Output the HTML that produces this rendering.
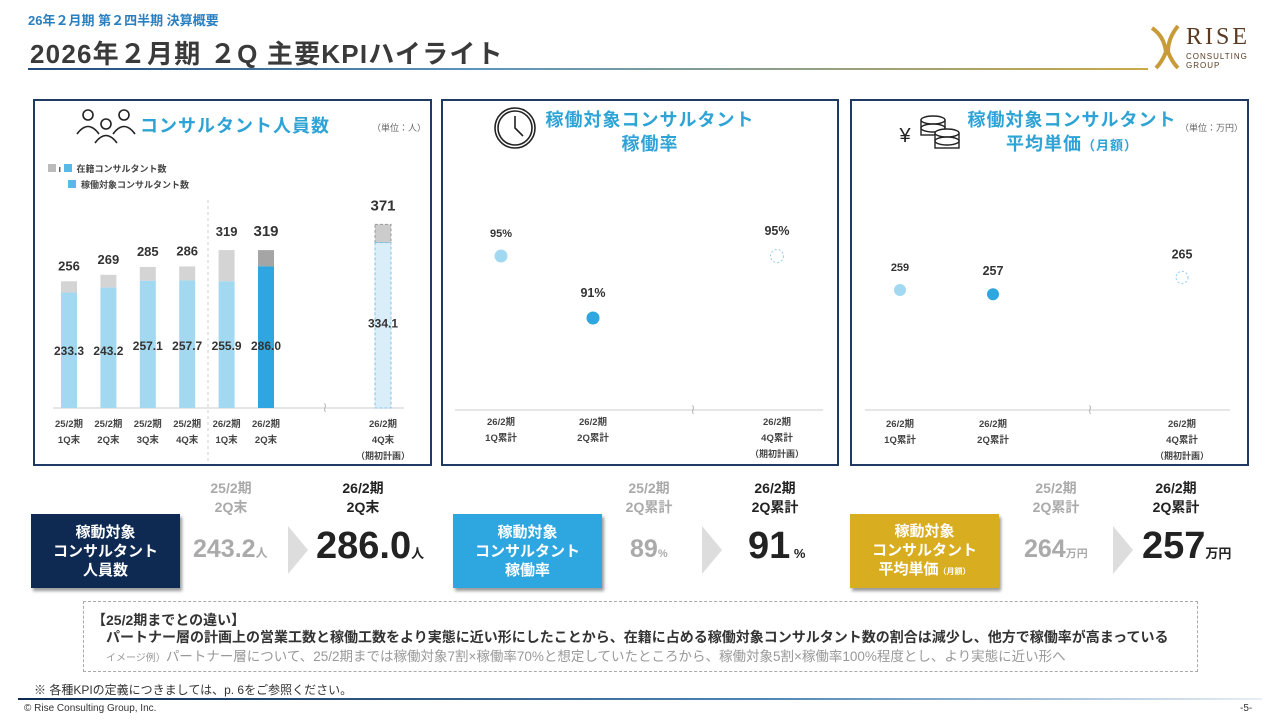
<!DOCTYPE html>
<html lang="ja"><head><meta charset="utf-8">
<style>
*{margin:0;padding:0;box-sizing:border-box}
body{width:1280px;height:720px;position:relative;background:#fff;font-family:"Liberation Sans","Noto Sans CJK JP",sans-serif;color:#333;overflow:hidden}
.a{position:absolute}
.panel{position:absolute;border:2px solid #1f3b63}
.ttl{color:#2ea3d6;font-weight:bold;font-size:18px;text-align:center;line-height:24px;letter-spacing:1px}
.kbox{position:absolute;width:149px;height:74px;color:#fff;font-weight:bold;font-size:15px;line-height:19px;text-align:center;display:flex;align-items:center;justify-content:center;box-shadow:2px 3px 3px #999}
.hd{position:absolute;text-align:center;font-size:14px;line-height:19px;font-weight:bold;width:90px}
.old{color:#aaa}.new{color:#222}
.val{position:absolute;font-weight:bold;white-space:nowrap}
.arr{position:absolute;width:0;height:0;border-top:24px solid transparent;border-bottom:24px solid transparent;border-left:20px solid #ddd}
</style></head><body>
<div class="a" style="left:28px;top:10px;font-size:13px;color:#2a7fc0;font-weight:bold">26年２月期 第２四半期 決算概要</div>
<div class="a" style="left:30px;top:34px;font-size:26px;letter-spacing:1.2px;color:#3a3a3a;font-weight:bold">2026年２月期 ２Q 主要KPIハイライト</div>
<div class="a" style="left:28px;top:68px;width:1120px;height:2px;background:linear-gradient(90deg,#1f4a7a,#5d95bd 40%,#c9a94a)"></div>
<div class="a" style="left:1148px;top:22px;width:112px;height:50px">
<svg width="40" height="50" style="position:absolute;left:0;top:0"><path d="M4 6 Q16 14 18 30 Q14 40 8 46 M30 4 Q20 16 20 30 Q24 40 30 46" stroke="#c79b3a" stroke-width="4" fill="none"/></svg>
<div class="a" style="left:38px;top:2px;font-family:'Liberation Serif',serif;font-size:24px;letter-spacing:3px;color:#5a3a20">RISE</div>
<div class="a" style="left:38px;top:30px;font-size:8px;letter-spacing:1px;color:#5a3a20;line-height:9px">CONSULTING<br>GROUP</div></div>

<div class="panel" style="left:33px;top:99px;width:399px;height:367px"></div>
<div class="panel" style="left:441px;top:99px;width:398px;height:367px"></div>
<div class="panel" style="left:850px;top:99px;width:399px;height:367px"></div>

<div class="a ttl" style="left:140px;top:114px">コンサルタント人員数</div>
<div class="a" style="left:372px;top:121px;font-size:9px;color:#666">（単位：人）</div>
<div class="a ttl" style="left:540px;top:108px;width:220px">稼働対象コンサルタント<br>稼働率</div>
<div class="a ttl" style="left:962px;top:108px;width:220px">稼働対象コンサルタント<br>平均単価<span style="font-size:13px">（月額）</span></div>
<div class="a" style="left:1180px;top:121px;font-size:9px;color:#666">（単位：万円）</div>

<div class="a" style="left:48px;top:162px;font-size:9px;font-weight:bold;color:#444"><span style="display:inline-block;width:8px;height:8px;background:#bbb"></span> ı <span style="display:inline-block;width:8px;height:8px;background:#5ab8e6"></span>&nbsp;&nbsp;在籍コンサルタント数</div>
<div class="a" style="left:68px;top:178px;font-size:9px;font-weight:bold;color:#444"><span style="display:inline-block;width:8px;height:8px;background:#5ab8e6"></span>&nbsp;&nbsp;稼働対象コンサルタント数</div>

<svg id="ch" class="a" style="left:0;top:0" width="1280" height="720"></svg>

<div class="kbox" style="left:31px;top:514px;background:#0e2a52"><div>稼動対象<br>コンサルタント<br>人員数</div></div>
<div class="kbox" style="left:453px;top:514px;background:#2ea7e0"><div>稼動対象<br>コンサルタント<br>稼働率</div></div>
<div class="kbox" style="left:850px;top:514px;background:#d8ad1f"><div>稼動対象<br>コンサルタント<br>平均単価<span style="font-size:8px">（月額）</span></div></div>

<div class="hd old" style="left:186px;top:479px">25/2期<br>2Q末</div>
<div class="hd new" style="left:318px;top:479px">26/2期<br>2Q末</div>
<div class="hd old" style="left:604px;top:479px">25/2期<br>2Q累計</div>
<div class="hd new" style="left:730px;top:479px">26/2期<br>2Q累計</div>
<div class="hd old" style="left:1011px;top:479px">25/2期<br>2Q累計</div>
<div class="hd new" style="left:1131px;top:479px">26/2期<br>2Q累計</div>

<div class="val old" style="left:193px;top:535px;font-size:25px">243.2<span style="font-size:12px">人</span></div>
<div class="arr" style="left:288px;top:526px"></div>
<div class="val new" style="left:316px;top:525px;font-size:38px">286.0<span style="font-size:13px">人</span></div>
<div class="val old" style="left:630px;top:535px;font-size:25px">89<span style="font-size:11px">%</span></div>
<div class="arr" style="left:702px;top:526px"></div>
<div class="val new" style="left:748px;top:525px;font-size:38px">91<span style="font-size:13px"> %</span></div>
<div class="val old" style="left:1024px;top:535px;font-size:25px">264<span style="font-size:11px">万円</span></div>
<div class="arr" style="left:1113px;top:526px"></div>
<div class="val new" style="left:1142px;top:525px;font-size:38px">257<span style="font-size:13px">万円</span></div>

<div class="a" style="left:83px;top:601px;width:1115px;height:71px;border:1px dashed #aaa"></div>
<div class="a" style="left:92px;top:610px;font-size:14px;font-weight:bold;color:#333">【25/2期までとの違い】</div>
<div class="a" style="left:106px;top:627px;font-size:14px;font-weight:bold;color:#333;white-space:nowrap">パートナー層の計画上の営業工数と稼働工数をより実態に近い形にしたことから、在籍に占める稼働対象コンサルタント数の割合は減少し、他方で稼働率が高まっている</div>
<div class="a" style="left:106px;top:645px;font-size:13.5px;color:#999;white-space:nowrap"><span style="font-size:10px">イメージ例）</span>パートナー層について、25/2期までは稼働対象7割×稼働率70%と想定していたところから、稼働対象5割×稼働率100%程度とし、より実態に近い形へ</div>
<div class="a" style="left:34px;top:681px;font-size:12px;color:#333">※ 各種KPIの定義につきましては、p. 6をご参照ください。</div>
<div class="a" style="left:18px;top:698px;width:1244px;height:2px;background:linear-gradient(90deg,#0e2a52,#4d86b5 60%,#e8eef5)"></div>
<div class="a" style="left:24px;top:703px;font-size:10px;color:#333">© Rise Consulting Group, Inc.</div>
<div class="a" style="left:1240px;top:703px;font-size:10px;color:#333">-5-</div>

<script>
// headcount data
const hcCats=["25/2期|1Q末","25/2期|2Q末","25/2期|3Q末","25/2期|4Q末","26/2期|1Q末","26/2期|2Q末","26/2期|4Q末|（期初計画）"];
const hcTotal=[256,269,285,286,319,319,371];
const hcActive=[233.3,243.2,257.1,257.7,255.9,286.0,334.1];
// utilization data
const utCats=["26/2期|1Q累計","26/2期|2Q累計","26/2期|4Q累計|（期初計画）"];
const utVals=[95,91,95];
// unit price data
const upCats=["26/2期|1Q累計","26/2期|2Q累計","26/2期|4Q累計|（期初計画）"];
const upVals=[259,257,265];

const svg=document.getElementById('ch');
const NS="http://www.w3.org/2000/svg";
function mk(t,a,p){const e=document.createElementNS(NS,t);for(const k in a)e.setAttribute(k,a[k]);(p||svg).appendChild(e);return e;}
function txt(x,y,s,sz,fill,w,name){const e=mk('text',{x:x,y:y,'font-size':sz,fill:fill,'text-anchor':'middle','font-weight':w||'normal','font-family':'"Liberation Sans","Noto Sans CJK JP",sans-serif'});e.textContent=s;


return e;}
function catLabel(x,y,c,name){c.split('|').forEach((l,i)=>{txt(x,y+i*16,l,i==2?9:9.5,'#444','bold',name);});}

// bar chart
const base=408, ppu=0.495;
const yB=v=>base-v*ppu;
const hcX=i=>i<6?69+i*39.4:383;
let ax=mk('line',{x1:53,y1:base,x2:404,y2:base,stroke:'#ccc'});


let dv=mk('line',{x1:208,y1:200,x2:208,y2:462,stroke:'#ccc','stroke-dasharray':'3,3'});


txt(325,412,'≀',14,'#bbb','normal','axis-break');
hcCats.forEach((c,i)=>{
 const x=hcX(i),w=16,plan=i==6,cur=i==5;
 const g=mk('rect',{x:x-w/2,y:yB(hcTotal[i]),width:w,height:(hcTotal[i]-hcActive[i])*ppu,fill:cur?'#a5a5a5':(plan?'#ccc':'#d4d4d4'),stroke:plan?'#999':'none','stroke-dasharray':'3,2'});
 
 
 const b=mk('rect',{x:x-w/2,y:yB(hcActive[i]),width:w,height:hcActive[i]*ppu,fill:cur?'#2ea7e0':(plan?'#d9eef9':'#a3d9f0'),stroke:plan?'#7cc4e8':'none','stroke-dasharray':'3,2'});
 
 
 txt(x,yB(hcTotal[i])-(i>=4?14:11),String(hcTotal[i]),i>=5?15:13,'#333','bold','bar-total-label');
 txt(x,plan?yB(hcActive[i]/2)+2:(i<2?355:350),hcActive[i].toFixed(1),12,'#333','bold','bar-active-label');
 catLabel(x,427,c,'headcount-category');
});

// utilization
const utX=i=>[501,593,777][i];
const yU=v=>256+(95-v)*15.5;
let a2=mk('line',{x1:455,y1:410,x2:823,y2:410,stroke:'#ccc'});


txt(693,414,'≀',14,'#bbb','normal','axis-break');
utVals.forEach((v,i)=>{
 const x=utX(i),y=yU(v);
 const c=mk('circle',{cx:x,cy:y,r:6.5,fill:i==2?'none':(i==1?'#2ea7e0':'#a3d9f0'),stroke:i==2?'#8fcdee':'none','stroke-dasharray':'2,2'});
 
 
 txt(x,y-(i==0?19:21),v+'%',i==0?11:12.5,'#333','bold','utilization-label');
 catLabel(x,425,utCats[i],'utilization-category');
});

// unit price
const upX=i=>[900,993,1182][i];
const yP=v=>290-(v-259)*2.1;
let a3=mk('line',{x1:865,y1:410,x2:1230,y2:410,stroke:'#ccc'});


txt(1090,414,'≀',14,'#bbb','normal','axis-break');
upVals.forEach((v,i)=>{
 const x=upX(i),y=yP(v);
 const c=mk('circle',{cx:x,cy:y,r:6,fill:i==2?'none':(i==1?'#2ea7e0':'#a3d9f0'),stroke:i==2?'#8fcdee':'none','stroke-dasharray':'2,2'});
 
 
 txt(x,y-19,String(v),i==0?11:12.5,'#333','bold','unit-price-label');
 catLabel(x,427,upCats[i],'unit-price-category');
});

// icons
const ic=mk('g',{fill:'none',stroke:'#222','stroke-width':1.6});


[[88,115],[124,115],[106,124]].forEach(p=>{mk('circle',{cx:p[0],cy:p[1],r:5},ic);mk('path',{d:`M${p[0]-11} ${p[1]+19} Q${p[0]} ${p[1]+4} ${p[0]+11} ${p[1]+19}`},ic);});
const ck=mk('g',{fill:'none',stroke:'#222','stroke-width':1.6});


mk('circle',{cx:515,cy:128,r:20},ck);mk('circle',{cx:515,cy:128,r:17},ck);
mk('path',{d:'M515 116 L515 128 L523 136'},ck);
txt(905,142,'¥',20,'#222','normal','yen-icon');
const cn=mk('g',{fill:'#fff',stroke:'#222','stroke-width':1.4});


[[933,120],[933,128],[947,133],[947,141]].forEach(p=>{mk('rect',{x:p[0]-12,y:p[1],width:24,height:7},cn);mk('ellipse',{cx:p[0],cy:p[1],rx:12,ry:4},cn);});
</script>
</body></html>
